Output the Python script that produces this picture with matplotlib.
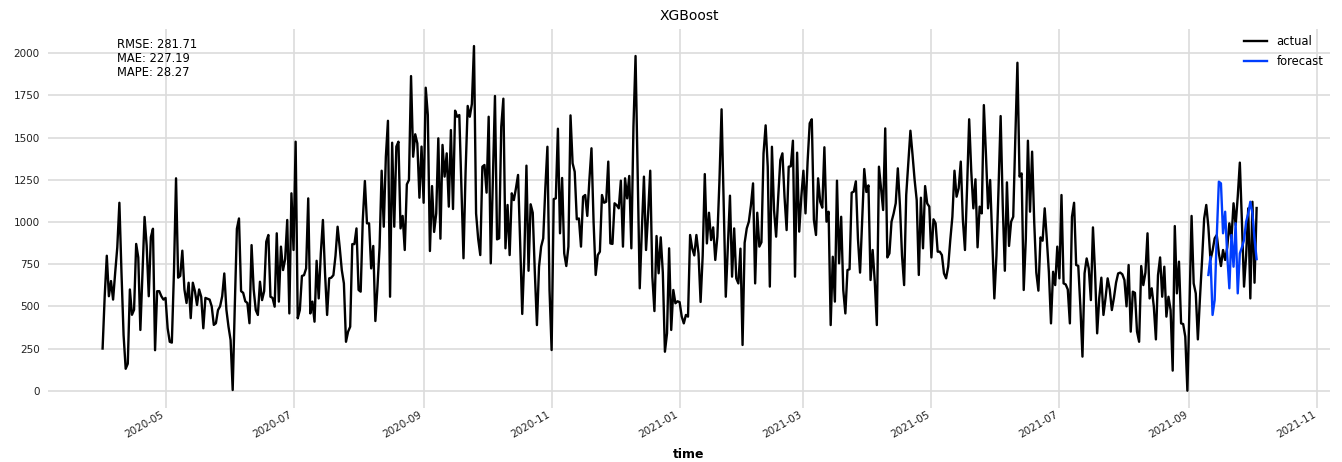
# XGBoost forecast vs actual, darts-like look
import matplotlib
matplotlib.use("Agg")
import matplotlib.pyplot as plt
import matplotlib.dates as mdates
import pandas as pd

# actual daily values from 2020-04-01
actual = [
    250, 560, 800, 560, 650, 540, 700, 850, 1114, 700,
    330, 130, 160, 600, 450, 480, 870, 790, 360, 700,
    1030, 860, 560, 910, 960, 240, 590, 590, 560, 540,
    550, 370, 290, 285, 700, 1259, 670, 680, 830, 600,
    520, 640, 430, 640, 590,
    508, 600, 557, 370, 550, 545, 540, 500, 390, 400,
    478, 500, 560, 695, 480, 380, 300, 4, 500, 960,
    1021, 590, 580, 530, 520, 400, 863, 600, 478, 449,
    646, 537, 590, 883, 923, 557, 550, 498, 933, 528,
    854, 715, 780, 1012, 458, 1170,
    834, 1476, 429, 478, 680, 685, 725, 1140, 458, 528,
    409, 770, 547, 814, 1012, 700, 449, 666, 670, 685,
    800, 972, 850, 715, 636, 290, 350, 379, 869, 869, 962,
    597, 587, 1012, 1243, 992, 992, 725, 858, 413, 617,
    850, 1304, 972, 1387, 1600,
    557, 1470, 972, 1447, 1476, 962, 1036, 834, 1223, 1249,
    1865, 1387, 1520, 1466, 1144, 1447, 1114, 1796, 1634, 828,
    1213, 941, 1051, 1496, 901, 1457, 1269, 1407, 1091, 1545,
    1077, 1660, 1624, 1634, 1200, 785, 1300, 1688, 1624, 1700,
    2043, 1051, 900, 804, 1328, 1338,
    1174, 1624, 755, 1250, 1747, 897, 903, 1565, 1731, 844,
    1101, 804, 1170, 1130, 1200, 1279, 880, 455, 800, 1334,
    711, 1105, 1055, 700, 389, 735, 854, 903, 1200, 1446,
    597, 241, 1136, 1140, 1553, 933, 1261, 814, 739, 854,
    1632, 1348, 1298, 1016, 1021, 854,
    1150, 1160, 1036, 1250, 1437, 1000, 686, 804, 824, 1160,
    1114, 1120, 1358, 873, 870, 1111, 1100, 1081, 1245, 854,
    1259, 1140, 1273, 844, 1565, 1984, 1300, 607, 950, 1269,
    834, 1050, 1304, 676, 472, 917, 696, 909, 700, 231,
    340, 844, 360, 597, 518, 530,
    525, 440, 399, 449, 439, 923, 844, 802, 923, 814,
    526, 800, 1284, 873, 1055, 893, 968, 775, 913, 1250,
    1668, 1100, 557, 850, 1156, 676, 962, 666, 636, 842,
    271, 877, 962, 1002, 1100, 1229, 636, 1055, 854, 880,
    1407, 1573, 1328, 617, 1446,
    1071, 913, 1150, 1367, 1407, 1150, 952, 1328, 1330, 1482,
    676, 1411, 943, 1150, 1304, 1051, 1358, 1585, 1609, 1012,
    923, 1259, 1120, 1085, 1443, 1002, 1061, 389, 794, 528,
    1245, 755, 1031, 597, 458, 715, 720, 1174, 1180, 1241,
    900, 700, 1000, 1314, 1178, 1217,
    656, 834, 650, 389, 1328, 1200, 1071, 1555, 790, 814,
    1002, 1050, 1111, 1318, 1100, 800, 626, 1160, 1348, 1541,
    1400, 1250, 1130, 686, 1144, 844, 1213, 1110, 1091, 790,
    1016, 992, 824, 824, 804, 695, 666, 735, 893, 1031,
    1304, 1150, 1200, 1358, 1012, 834,
    1200, 1609, 1300, 1081, 1253, 850, 1091, 1051, 1693, 1400,
    1081, 1249, 900, 547, 800, 1200, 1628, 1100, 711, 1235,
    858, 1002, 1031, 1500, 1944, 1269, 1288, 597, 900, 1482,
    1061, 1417, 1000, 700, 593, 909, 889, 1081, 900, 700,
    399, 705, 626, 854, 666, 1160,
    636, 630, 600, 399, 1031, 1114, 745, 740, 498, 202,
    696, 784, 725, 537, 968, 700, 340, 550, 670, 449,
    550, 666, 600, 478, 550, 640, 695, 700, 690, 656,
    500, 745, 350, 587, 580, 350, 290, 739, 626, 700,
    933, 547, 607, 500, 304,
    685, 790, 557, 735, 439, 557, 478, 119, 976, 577,
    765, 399, 395, 320, 0, 500, 1036, 636, 577, 304,
    550, 775, 1021, 1101, 972, 775, 830, 903, 923, 814,
    739, 834, 775, 850, 992, 900, 1111, 982, 1150, 1352,
    1000, 617, 800, 1081, 547, 1120, 640, 1083,
]
actual_start = "2020-04-01"

# forecast daily values from 2021-09-10
forecast = [
    686, 794, 449, 537, 913, 1239, 1229, 933, 1061, 800,
    607, 923, 735, 992, 577, 814, 850, 893, 1002, 1050,
    1120, 1051, 900, 780,
]
forecast_start = "2021-09-10"

metrics_text = "RMSE: 281.71\nMAE: 227.19\nMAPE: 28.27"

actual_idx = pd.date_range(actual_start, periods=len(actual), freq="D")
forecast_idx = pd.date_range(forecast_start, periods=len(forecast), freq="D")

fig, ax = plt.subplots(figsize=(13.42, 4.62), dpi=100)
fig.subplots_adjust(left=0.0358, right=0.9911, top=0.9383, bottom=0.1171)

ax.plot(actual_idx, actual, color="#000000", linewidth=1.7, label="actual")
ax.plot(forecast_idx, forecast, color="#003DFD", linewidth=1.7, label="forecast")

ax.set_xlim(pd.Timestamp("2020-03-06"), pd.Timestamp("2021-11-07"))
ax.set_ylim(-102, 2147)
ax.set_yticks(range(0, 2001, 250))

ax.xaxis.set_major_locator(mdates.MonthLocator(bymonth=[1, 3, 5, 7, 9, 11]))
ax.xaxis.set_major_formatter(mdates.DateFormatter("%Y-%m"))
for lbl in ax.get_xticklabels():
    lbl.set_rotation(30)
    lbl.set_ha("right")

ax.grid(True, color="#dcdcdc", linewidth=1.2)
ax.set_axisbelow(True)
for s in ax.spines.values():
    s.set_visible(False)
ax.tick_params(axis="both", length=0, labelsize=7.5, colors="#222222")
ax.tick_params(axis="x", pad=1)
ax.tick_params(axis="y", pad=6)

ax.set_title("XGBoost", fontsize=10)
ax.set_xlabel("time", fontsize=9, fontweight="bold", labelpad=6)

ax.text(0.054, 0.975, metrics_text, transform=ax.transAxes, fontsize=8.3,
        va="top", ha="left", linespacing=1.1)

ax.legend(loc="upper right", bbox_to_anchor=(1.0, 1.0), borderaxespad=0.2,
          frameon=False, fontsize=8.3, handlelength=2.0, labelspacing=0.6)

fig.savefig("out.png", dpi=100)
